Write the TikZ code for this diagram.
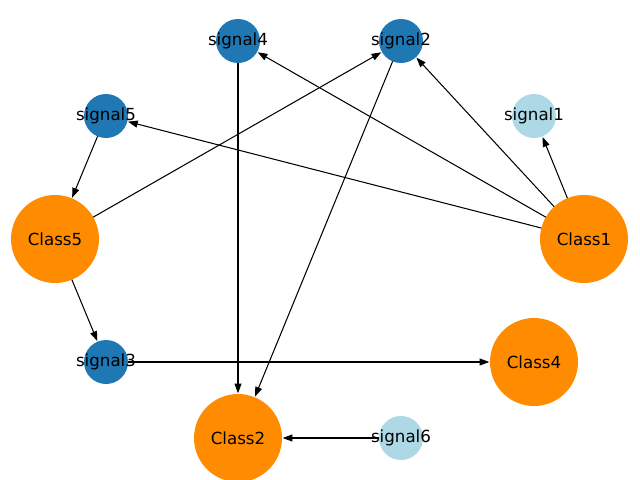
\documentclass[tikz,border=0pt]{standalone}
\usepackage{fontspec}
\setmainfont{DejaVu Sans}
\usetikzlibrary{arrows.meta}
\definecolor{nblue}{HTML}{1F77B4}
\definecolor{nlight}{HTML}{ADD8E6}
\definecolor{norange}{HTML}{FF8C00}
\newcommand{\nlab}[1]{\makebox[0pt]{#1}}
\tikzset{
  sig/.style={circle, fill=nblue, minimum size=44*0.72pt, inner sep=0pt, outer sep=0pt, font=\fontsize{12}{14}\selectfont},
  sigl/.style={sig, fill=nlight},
  cls/.style={circle, fill=norange, minimum size=88*0.72pt, inner sep=0pt, outer sep=0pt, font=\fontsize{12}{14}\selectfont},
  edge/.style={draw=black, line width=0.75pt, -{Stealth[length=7pt,width=5pt,inset=0pt]}, shorten >=0.5pt}
}
\begin{document}
\begin{tikzpicture}[x=0.72pt, y=-0.72pt]
\useasboundingbox (0,0) rectangle (640,480);
\node[sig]  (s4) at (238,41)  {\nlab{signal4}};
\node[sig]  (s2) at (401,41)  {\nlab{signal2}};
\node[sig]  (s5) at (106,116) {\nlab{signal5}};
\node[sigl] (s1) at (534,116) {\nlab{signal1}};
\node[cls]  (c5) at (55,239)  {\nlab{Class5}};
\node[cls]  (c1) at (584,239) {\nlab{Class1}};
\node[sig]  (s3) at (106,362) {\nlab{signal3}};
\node[cls]  (c4) at (534,362) {\nlab{Class4}};
\node[cls]  (c2) at (238,438) {\nlab{Class2}};
\node[sigl] (s6) at (401,438) {\nlab{signal6}};
\draw[edge] (c1) -- (s1);
\draw[edge] (c1) -- (s2);
\draw[edge] (c1) -- (s4);
\draw[edge] (c1) -- (s5);
\draw[edge] (s5) -- (c5);
\draw[edge] (c5) -- (s2);
\draw[edge] (s2) -- (c2);
\draw[edge] (s4) -- (c2);
\draw[edge] (c5) -- (s3);
\draw[edge] (s3) -- (c4);
\draw[edge] (s6) -- (c2);
\end{tikzpicture}
\end{document}
